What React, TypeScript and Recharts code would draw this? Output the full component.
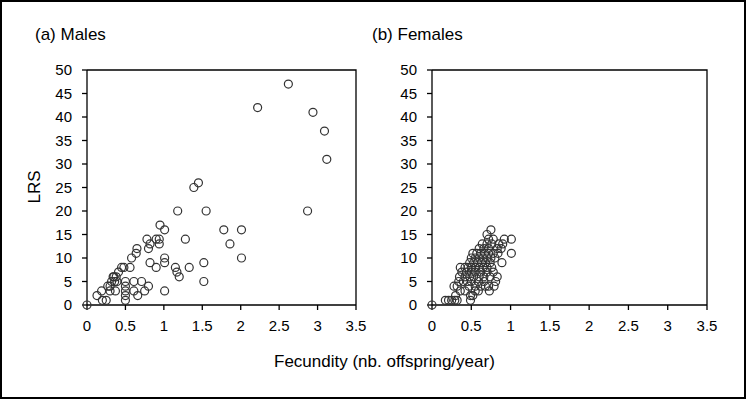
import React from 'react';
import { ScatterChart, Scatter, XAxis, YAxis } from 'recharts';

const xTicks = [0, 0.5, 1, 1.5, 2, 2.5, 3, 3.5];
const yTicks = [0, 5, 10, 15, 20, 25, 30, 35, 40, 45, 50];

// Males: fecundity (nb. offspring/year) and LRS
const maleFecundity = [
  0, 0.13, 0.19, 0.2, 0.25, 0.27, 0.3, 0.3, 0.32, 0.34, 0.36, 0.35, 0.37, 0.38, 0.39,
  0.41, 0.45, 0.48, 0.5, 0.5, 0.5, 0.5, 0.5, 0.56, 0.58, 0.61, 0.61, 0.64, 0.65, 0.66,
  0.71, 0.75, 0.8, 0.78, 0.8, 0.82, 0.82, 0.9, 0.9, 0.94, 0.94, 0.95, 1.01, 1.01, 1.01,
  1.01, 1.15, 1.17, 1.2, 1.18, 1.28, 1.33, 1.39, 1.45, 1.52, 1.52, 1.55, 1.78, 1.86,
  2.01, 2.01, 2.22, 2.62, 2.87, 2.94, 3.09, 3.12,
];
const maleLRS = [
  0, 2, 3, 1, 1, 4, 4, 3, 5, 6, 5, 6, 3, 6, 5,
  7, 8, 8, 5, 4, 3, 2, 1, 8, 10, 5, 3, 11, 12, 2,
  5, 3, 4, 14, 12, 13, 9, 14, 8, 14, 13, 17, 16, 10, 9,
  3, 8, 7, 6, 20, 14, 8, 25, 26, 9, 5, 20, 16, 13,
  16, 10, 42, 47, 20, 41, 37, 31,
];

// Females
const femaleFecundity = [
  0, 0.17, 0.21, 0.25, 0.29, 0.32, 0.49,
  0.3, 0.49, 0.52,
  0.36, 0.42, 0.59, 0.73, 0.55,
  0.32, 0.28, 0.47, 0.55, 0.62, 0.68, 0.79, 0.72,
  0.34, 0.4, 0.45, 0.59, 0.66, 0.81, 0.5,
  0.35, 0.42, 0.48, 0.53, 0.6, 0.66, 0.74, 0.83,
  0.38, 0.44, 0.5, 0.55, 0.62, 0.7, 0.78,
  0.36, 0.42, 0.46, 0.5, 0.55, 0.6, 0.65, 0.7, 0.76,
  0.48, 0.53, 0.58, 0.63, 0.68, 0.74, 0.89,
  0.5, 0.55, 0.6, 0.65, 0.7, 0.75, 0.8,
  0.52, 0.57, 0.62, 0.67, 0.72, 0.78, 0.84, 1.01,
  0.6, 0.66, 0.72, 0.83, 0.88,
  0.64, 0.7, 0.76, 0.85, 0.9,
  0.72, 0.78, 0.92, 1.01,
  0.7, 0.75,
];
const femaleLRS = [
  0, 1, 1, 1, 1, 1, 1,
  2, 2, 2,
  3, 3, 3, 3, 3,
  4, 4, 4, 4, 4, 4, 4, 4,
  5, 5, 5, 5, 5, 5, 5,
  6, 6, 6, 6, 6, 6, 6, 6,
  7, 7, 7, 7, 7, 7, 7,
  8, 8, 8, 8, 8, 8, 8, 8, 8,
  9, 9, 9, 9, 9, 9, 9,
  10, 10, 10, 10, 10, 10, 10,
  11, 11, 11, 11, 11, 11, 11, 11,
  12, 12, 12, 12, 12,
  13, 13, 13, 13, 13,
  14, 14, 14, 14,
  15, 16,
];

const toPoints = (xs: number[], ys: number[]) => xs.map((x, i) => ({ x, y: ys[i] }));

const FONT = '"Liberation Sans", Arial, sans-serif';
const tickStyle = { fill: '#000', fontSize: 15, fontFamily: FONT };

const CHART_H = 400;
const M_TOP = 68;
const M_RIGHT = 20;
const M_BOTTOM = 67;
const X_AXIS_H = 30;

const Ring = (props: any) => (
  <circle cx={props.cx} cy={props.cy} r={4} fill="none" stroke="#333" strokeWidth={1.2} />
);

interface PanelProps {
  left: number;
  width: number;
  axisWidth: number;
  data: { x: number; y: number }[];
}

const Panel: React.FC<PanelProps> = ({ left, width, axisWidth, data }) => {
  const plotRight = width - M_RIGHT;
  const plotBottom = CHART_H - M_BOTTOM - X_AXIS_H;
  return (
    <div style={{ position: 'absolute', left, top: 0, width, height: CHART_H }}>
      <ScatterChart
        width={width}
        height={CHART_H}
        margin={{ top: M_TOP, right: M_RIGHT, bottom: M_BOTTOM, left: 0 }}
      >
        <XAxis
          type="number"
          dataKey="x"
          domain={[0, 3.5]}
          ticks={xTicks}
          height={X_AXIS_H}
          tickSize={5}
          tickMargin={10}
          tick={tickStyle}
          stroke="#000"
          strokeWidth={1.3}
          interval={0}
        />
        <YAxis
          type="number"
          dataKey="y"
          domain={[0, 50]}
          ticks={yTicks}
          width={axisWidth}
          tickSize={5}
          tickMargin={10}
          tick={tickStyle}
          stroke="#000"
          strokeWidth={1.3}
          interval={0}
        />
        <Scatter data={data} shape={Ring} isAnimationActive={false} />
      </ScatterChart>
      {/* plot-area frame (top and right edges), drawn over the chart */}
      <svg
        width={width}
        height={CHART_H}
        style={{ position: 'absolute', left: 0, top: 0, pointerEvents: 'none', zIndex: 5 }}
      >
        <path
          d={`M${axisWidth},${M_TOP} H${plotRight} V${plotBottom}`}
          fill="none"
          stroke="#000"
          strokeWidth={1.3}
        />
      </svg>
    </div>
  );
};

const label = (text: string, left: number, top: number) => (
  <div style={{ position: 'absolute', left, top, fontSize: 17, fontFamily: FONT, color: '#000', whiteSpace: 'nowrap' }}>
    {text}
  </div>
);

export default function App() {
  return (
    <div
      style={{
        position: 'absolute',
        left: 0,
        top: 0,
        width: 746,
        height: 399,
        border: '2px solid #000',
        boxSizing: 'border-box',
        background: '#fff',
        fontFamily: FONT,
      }}
    >
      <Panel left={0} width={374} axisWidth={85} data={toPoints(maleFecundity, maleLRS)} />
      <Panel left={360} width={365} axisWidth={70} data={toPoints(femaleFecundity, femaleLRS)} />
      {label('(a) Males', 33, 23)}
      {label('(b) Females', 370, 23)}
      {label('Fecundity (nb. offspring/year)', 272, 350)}
      <div
        style={{
          position: 'absolute',
          left: 33,
          top: 185,
          fontSize: 17,
          fontFamily: FONT,
          transform: 'translate(-50%, -50%) rotate(-90deg)',
          whiteSpace: 'nowrap',
        }}
      >
        LRS
      </div>
    </div>
  );
}
